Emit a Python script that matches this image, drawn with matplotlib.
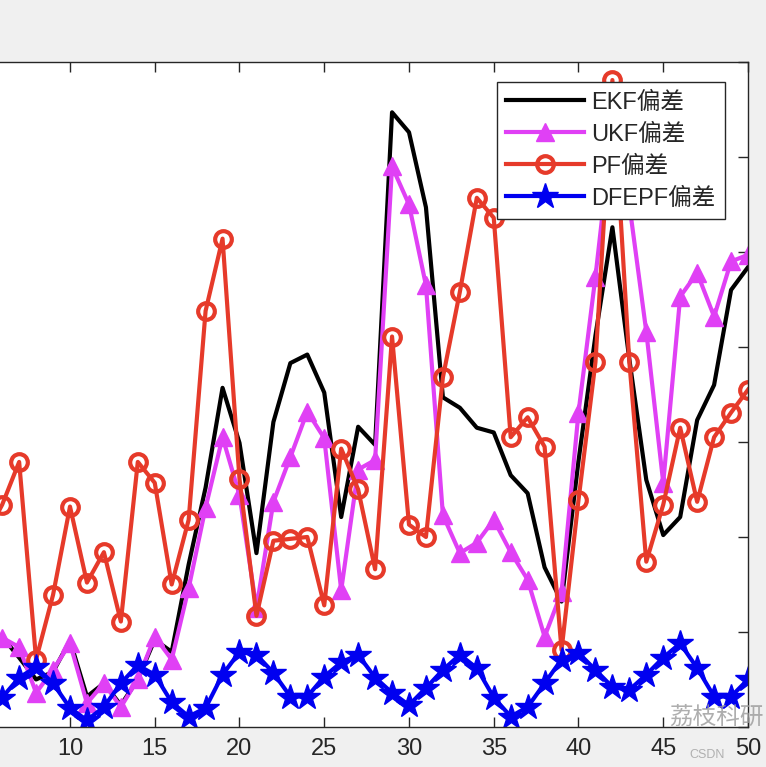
import numpy as np
import matplotlib
matplotlib.use('Agg')
import matplotlib.pyplot as plt

plt.rcParams['font.family'] = ['Liberation Sans', 'Noto Sans CJK SC', 'DejaVu Sans']

# 采样点 (图中可见部分 5..50)
steps = list(range(5, 51))

ekf = [1.00, 0.95, 0.73, 0.50, 0.58, 0.91, 0.32, 0.46, 0.23, 0.50, 0.92,
       0.79, 1.71, 2.52, 3.57, 2.99, 1.83, 3.21, 3.83, 3.92, 3.52,
       2.21, 3.16, 2.97, 6.47, 6.26, 5.47, 3.47, 3.36, 3.15, 3.10,
       2.65, 2.46, 1.68, 1.32, 2.80, 4.12, 5.26, 3.87, 2.60, 2.02,
       2.21, 3.23, 3.60, 4.60, 4.84]

ukf = [1.00, 0.94, 0.84, 0.36, 0.60, 0.88, 0.25, 0.46, 0.21, 0.50, 0.95,
       0.71, 1.46, 2.31, 3.05, 2.44, 1.25, 2.37, 2.84, 3.32, 3.04,
       1.44, 2.71, 2.81, 5.90, 5.50, 4.65, 2.23, 1.83, 1.94, 2.18,
       1.84, 1.55, 0.95, 1.42, 3.31, 4.74, 6.32, 5.50, 4.16, 2.57,
       4.53, 4.78, 4.32, 4.90, 4.97]

pf = [2.00, 2.34, 2.79, 0.71, 1.39, 2.32, 1.52, 1.84, 1.11, 2.79, 2.57,
      1.50, 2.18, 4.38, 5.14, 2.61, 1.17, 1.96, 1.98, 2.00, 1.28,
      2.93, 2.50, 1.66, 4.11, 2.13, 2.00, 3.68, 4.58, 5.57, 5.36,
      3.05, 3.26, 2.95, 0.81, 2.39, 3.84, 6.81, 3.84, 1.74, 2.34,
      3.15, 2.37, 3.05, 3.31, 3.55]

dfepf = [0.30, 0.31, 0.52, 0.63, 0.46, 0.20, 0.07, 0.21, 0.46, 0.65, 0.55,
         0.26, 0.11, 0.20, 0.55, 0.79, 0.76, 0.57, 0.32, 0.32, 0.53,
         0.68, 0.76, 0.52, 0.36, 0.23, 0.41, 0.60, 0.76, 0.62, 0.31,
         0.11, 0.21, 0.46, 0.71, 0.78, 0.60, 0.42, 0.39, 0.55, 0.73,
         0.88, 0.62, 0.32, 0.32, 0.50]

labels = ['EKF偏差', 'UKF偏差', 'PF偏差', 'DFEPF偏差']
xticks = list(range(0, 51, 5))
# 0 和 5 在截图外面, 不写
xticklabels = ['', '', '10', '15', '20', '25', '30', '35', '40', '45', '50']

fig = plt.figure(figsize=(7.66, 7.67), dpi=100, facecolor='#f0f0f0')
# 截图只显示了右边部分, 左边跑出画面
ax = fig.add_axes([-0.1299, 0.0522, 1.1064, 0.867])
ax.set_facecolor('white')

lw = 3.0
ax.plot(steps, ekf, color='black', lw=lw, label=labels[0])
ax.plot(steps, ukf, color='#e040f5', lw=lw, marker='^', ms=13,
        mfc='#e040f5', mec='#e040f5', label=labels[1])
ax.plot(steps, pf, color='#e63a2a', lw=lw, marker='o', ms=12, mew=3,
        mfc='none', mec='#e63a2a', label=labels[2])
ax.plot(steps, dfepf, color='#0000f0', lw=lw, marker='*', ms=19,
        mfc='#0000f0', mec='#0000f0', label=labels[3])

ax.set_xlim(0, 50)
ax.set_ylim(0, 7)
ax.set_xticks(xticks)
ax.set_xticklabels(xticklabels)
ax.set_yticks(np.arange(0, 8, 1))
ax.set_yticklabels([])
ax.tick_params(direction='in', top=True, right=True, length=7, width=1,
               colors='#262626', labelsize=17, pad=8)
for s in ax.spines.values():
    s.set_color('#262626')
    s.set_linewidth(1)

leg = ax.legend(loc='upper right', bbox_to_anchor=(0.9465, 0.8931),
                bbox_transform=fig.transFigure, fontsize=17,
                handlelength=3.3, handletextpad=0.3, labelspacing=0.42,
                borderpad=0.4, borderaxespad=0, fancybox=False,
                framealpha=1, edgecolor='#262626')
leg.get_frame().set_linewidth(1)
for t in leg.get_texts():
    t.set_color('#262626')

# 水印
fig.text(0.873, 0.056, '荔枝科研', fontsize=17, color='#9a9a9a', alpha=0.8,
         family=['Noto Sans CJK SC'])
fig.text(0.900, 0.012, 'CSDN', fontsize=9, color='#b0b0b0')

fig.savefig('out.png', dpi=100, facecolor=fig.get_facecolor())
